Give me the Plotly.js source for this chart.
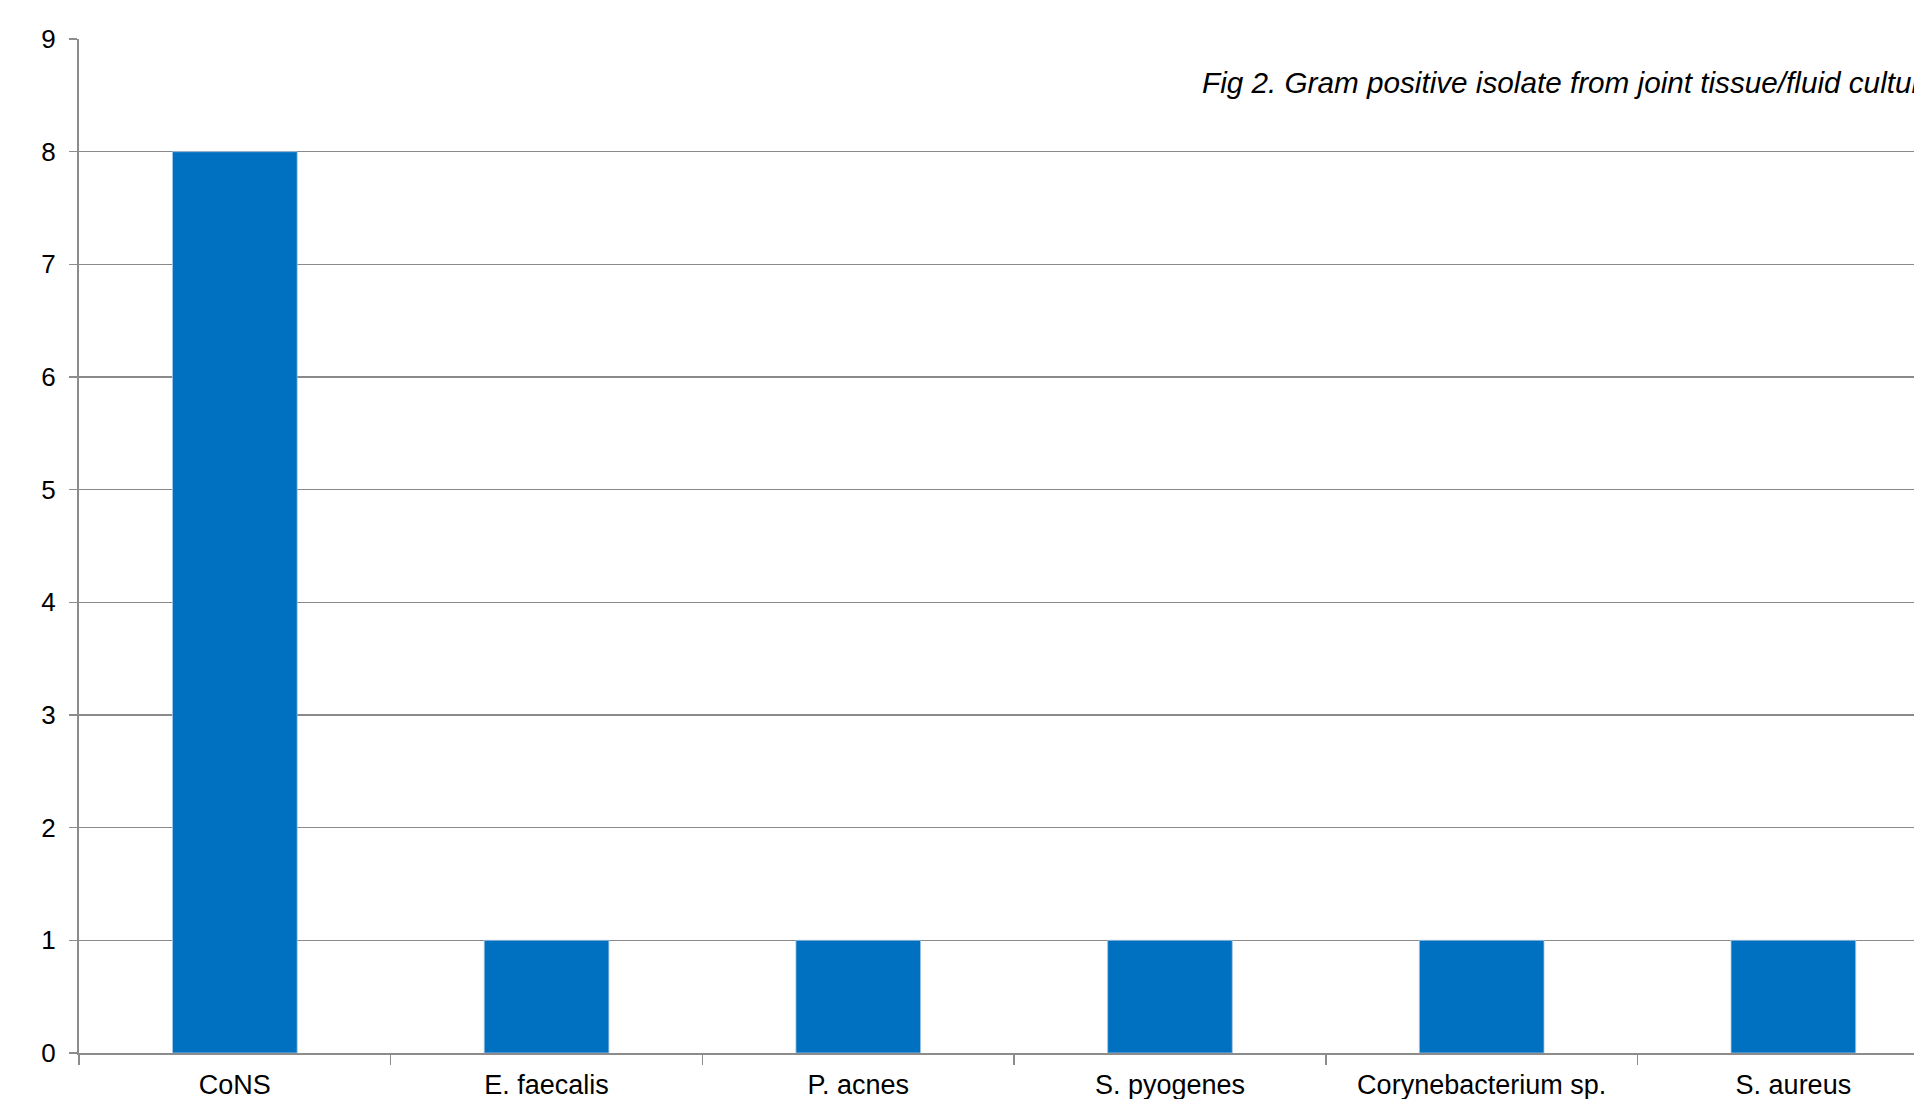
<!DOCTYPE html>
<html>
<head>
<meta charset="utf-8">
<script src="https://cdn.plot.ly/plotly-3.0.1.min.js"></script>
<style>html,body{margin:0;padding:0;overflow:hidden;background:#fff;}</style>
</head>
<body>
<div id="chart" style="width:1914px;height:1099px;"></div>
<script>
const categories = ["CoNS", "E. faecalis", "P. acnes", "S. pyogenes", "Corynebacterium sp.", "S. aureus"];
const counts = [8, 1, 1, 1, 1, 1];
const yTicks = [0, 1, 2, 3, 4, 5, 6, 7, 8, 9];
const titleText = "Fig 2. Gram positive isolate from joint tissue/fluid culture";

const font = "Liberation Sans, Arial, sans-serif";
const trace = {
  type: "bar",
  x: categories,
  y: counts,
  width: 0.4,
  marker: {color: "#0070C0", line: {color: "#a9c8e8", width: 0.8}},
  hoverinfo: "x+y"
};
const layout = {
  width: 1914,
  height: 1099,
  margin: {l: 79, r: 0, t: 39, b: 46, pad: 0},
  paper_bgcolor: "#ffffff",
  plot_bgcolor: "#ffffff",
  showlegend: false,
  bargap: 0.6,
  title: {
    text: "<i>" + titleText + "</i>",
    font: {family: font, size: 29.7, color: "#000000"},
    xref: "container", yref: "container",
    x: 1202 / 1914, xanchor: "left",
    y: 1 - 83 / 1099, yanchor: "middle"
  },
  xaxis: {
    type: "category",
    range: [-0.5, 5.387],
    tickson: "boundaries",
    ticks: "outside",
    ticklen: 10,
    tickwidth: 1.5,
    tickcolor: "#8c8c8c",
    showline: true,
    linecolor: "#8c8c8c",
    linewidth: 2,
    showgrid: false,
    zeroline: false,
    ticklabelstandoff: 7,
    tickfont: {family: font, size: 27, color: "#000000"},
    fixedrange: true
  },
  yaxis: {
    range: [0, 9],
    tickvals: yTicks,
    ticktext: yTicks.map(String),
    ticks: "outside",
    ticklen: 8,
    tickwidth: 1.5,
    tickcolor: "#8c8c8c",
    showline: true,
    linecolor: "#8c8c8c",
    linewidth: 2,
    showgrid: true,
    gridcolor: "#8a8a8a",
    gridwidth: 1.5,
    zeroline: false,
    ticklabelstandoff: 8,
    tickfont: {family: font, size: 26, color: "#000000"},
    fixedrange: true
  }
};
Plotly.newPlot("chart", [trace], layout, {displayModeBar: false, staticPlot: true});
</script>
</body>
</html>
